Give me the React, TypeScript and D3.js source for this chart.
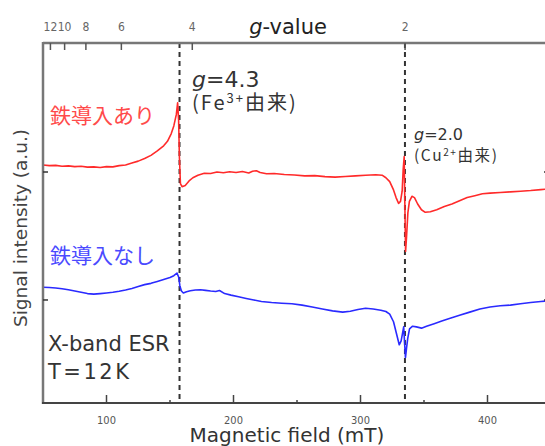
import React from "react";
import * as d3 from "d3";

// ---- data ----
const redField = [50,55,60,65,70,75,80,85,90,95,100,105,110,115,120,125,130,135,140,145,148,151,153,155,156,156.8,157.4,158.2,159.5,162,165,168,172,177,182,187,192,197,202,207,212,215,218,221,226,232,240,248,256,264,272,280,288,296,304,312,317,320,323,326,328,330,331.5,332.8,333.6,334.4,335.0,335.5,336.3,337.3,338.5,340.5,342.5,345,348,351,355,360,366,372,378,384,390,396,402,410,418,426,434,442,450];
const redSignal = [0.055,0.05,0.052,0.045,0.048,0.042,0.045,0.038,0.04,0.035,0.042,0.04,0.05,0.055,0.07,0.085,0.105,0.13,0.165,0.205,0.24,0.3,0.36,0.45,0.54,0.40,0.12,-0.09,-0.115,-0.105,-0.07,-0.045,-0.025,-0.01,-0.012,0.0,-0.006,0.002,-0.004,0.004,-0.008,0.006,0.01,-0.004,-0.014,-0.012,-0.02,-0.024,-0.03,-0.028,-0.036,-0.04,-0.035,-0.03,-0.025,-0.022,-0.025,-0.045,-0.075,-0.14,-0.2,-0.245,-0.23,-0.15,0.02,0.12,-0.3,-0.62,-0.5,-0.32,-0.23,-0.19,-0.2,-0.25,-0.295,-0.315,-0.31,-0.295,-0.27,-0.25,-0.225,-0.2,-0.185,-0.17,-0.165,-0.16,-0.155,-0.15,-0.145,-0.138,-0.13];

const blueField = [50,55,60,65,70,75,80,85,90,95,100,105,110,115,120,125,130,135,140,145,150,153,155.5,156.8,157.8,159,160.5,163,166,170,174,178,182,186,189,193,198,204,210,216,222,230,238,246,254,262,270,278,286,292,298,304,310,316,320,323,326,328.5,330.5,332,333.3,334.0,334.8,335.4,336.2,337.2,338.6,341,344,348,352,358,364,370,378,386,394,402,410,418,426,434,442,450];
const blueSignal = [0.10,0.098,0.094,0.088,0.08,0.07,0.06,0.05,0.046,0.05,0.055,0.06,0.068,0.078,0.09,0.105,0.12,0.13,0.145,0.16,0.175,0.19,0.21,0.18,0.11,0.07,0.055,0.065,0.072,0.078,0.08,0.075,0.07,0.066,0.074,0.05,0.038,0.025,0.012,0.0,-0.012,-0.02,-0.025,-0.03,-0.04,-0.055,-0.07,-0.085,-0.095,-0.088,-0.075,-0.065,-0.07,-0.08,-0.09,-0.11,-0.17,-0.27,-0.35,-0.32,-0.25,-0.21,-0.35,-0.45,-0.38,-0.3,-0.225,-0.205,-0.21,-0.22,-0.205,-0.185,-0.165,-0.145,-0.12,-0.095,-0.07,-0.055,-0.045,-0.04,-0.03,-0.02,-0.012,-0.005];

const redOffset = 1;
const blueOffset = 0;

const fieldTicks = [100, 200, 300, 400];
const fieldMinorTicks = [150, 250, 350];
const gTicks = [12, 10, 8, 6, 4, 2];
const gTickLabels = ["12", "10", "8", "6", "4", "2"];
const markerFields = [157.5, 335];
const freqGHz = 9.38;

const W = 545, H = 446;
const latin = "'DejaVu Sans', 'Noto Sans', sans-serif";
const cjk = "'Noto Sans CJK JP', sans-serif";
const condensed = "'DejaVu Sans Condensed', 'DejaVu Sans', sans-serif";

export default function App() {
  const x = d3.scaleLinear().domain([50, 450]).range([43, 551]);
  const y = d3.scaleLinear().domain([-0.805, 2.008]).range([403, 43]);
  const gToField = (g: number) => (71.4477 * freqGHz) / g;

  const line = d3.line<[number, number]>().x(d => x(d[0])).y(d => y(d[1]));
  const redPts = redField.map((f, i) => [f, redSignal[i] + redOffset] as [number, number]);
  const bluePts = blueField.map((f, i) => [f, blueSignal[i] + blueOffset] as [number, number]);

  const top = y.range()[1], bottom = y.range()[0];
  const left = x.range()[0], right = x.range()[1];

  return (
    <svg width={W} height={H} style={{ position: "absolute", left: 0, top: 0 }}>
      <rect width={W} height={H} fill="#fff" />
      {/* dashed markers */}
      {markerFields.map((f, i) => (
        <line key={i} x1={x(f)} x2={x(f)} y1={top} y2={bottom} stroke="#333" strokeWidth={2} strokeDasharray="5,4" />
      ))}
      {/* traces */}
      <path d={line(redPts) || ""} fill="none" stroke="#ff2a2a" strokeWidth={1.6} strokeLinejoin="round" />
      <path d={line(bluePts) || ""} fill="none" stroke="#2a2aff" strokeWidth={1.6} strokeLinejoin="round" />

      {/* axes */}
      <line x1={left} x2={right} y1={top} y2={top} stroke="#777" strokeWidth={2.5} />
      <line x1={left} x2={left} y1={top - 1} y2={bottom + 1} stroke="#777" strokeWidth={2.5} />
      <line x1={left - 1} x2={right} y1={bottom} y2={bottom} stroke="#444" strokeWidth={2} />
      <line x1={right} x2={right} y1={top} y2={bottom} stroke="#444" strokeWidth={2} />

      {fieldTicks.map(t => (
        <g key={t}>
          <line x1={x(t)} x2={x(t)} y1={bottom} y2={bottom - 8} stroke="#444" strokeWidth={1.5} />
          <text x={x(t)} y={424} textAnchor="middle" fontSize={11} fill="#555" fontFamily={condensed}>{t}</text>
        </g>
      ))}
      {fieldMinorTicks.map(t => (
        <line key={t} x1={x(t)} x2={x(t)} y1={bottom} y2={bottom - 3} stroke="#444" strokeWidth={1.5} />
      ))}
      {gTicks.map((g, i) => (
        <g key={g}>
          <line x1={x(gToField(g))} x2={x(gToField(g))} y1={top} y2={top + 7} stroke="#555" strokeWidth={1.5} />
          <text x={x(gToField(g))} y={31} textAnchor="middle" fontSize={12} fill="#666" fontFamily={condensed}>{gTickLabels[i]}</text>
        </g>
      ))}
      {[redOffset, blueOffset].map(v => (
        <g key={v}>
          <line x1={left} x2={left + 5} y1={y(v)} y2={y(v)} stroke="#333" strokeWidth={1.5} />
          <line x1={right} x2={right - 7} y1={y(v)} y2={y(v)} stroke="#333" strokeWidth={1.5} />
        </g>
      ))}

      {/* titles */}
      <text x={288} y={34} textAnchor="middle" fontSize={21} fill="#222" fontFamily={latin}>
        <tspan fontStyle="italic">g</tspan>-value
      </text>
      <text x={287} y={442} textAnchor="middle" fontSize={20} fill="#333" fontFamily={latin}>Magnetic field (mT)</text>
      <text transform="translate(27,228) rotate(-90)" textAnchor="middle" fontSize={18.5} fill="#444" fontFamily={latin}>Signal intensity (a.u.)</text>

      {/* annotations */}
      <text x={50} y={123} fontSize={21} fill="#ff4a4a" fontFamily={cjk}>鉄導入あり</text>
      <text x={50} y={263} fontSize={21} fill="#4a4aff" fontFamily={cjk}>鉄導入なし</text>
      <text x={48} y={351} fontSize={21} fill="#333" fontFamily={latin}>X-band ESR</text>
      <text x={48} y={379} fontSize={21} fill="#333" fontFamily={latin} letterSpacing={2.5}>T=12K</text>

      <text x={192} y={87} fontSize={22} fill="#333" fontFamily={latin}>
        <tspan fontStyle="italic">g</tspan>=4.3
      </text>
      <text x={192} y={110} fontSize={20} fill="#333" fontFamily={cjk} letterSpacing={2}>
        (Fe<tspan fontSize={13} dy={-7}>3+</tspan><tspan dy={7}>由来)</tspan>
      </text>
      <text x={414} y={140} fontSize={16} fill="#333" fontFamily={latin}>
        <tspan fontStyle="italic">g</tspan>=2.0
      </text>
      <text x={414} y={161} fontSize={15.5} fill="#333" fontFamily={cjk} letterSpacing={1.6}>
        (Cu<tspan fontSize={10} dy={-5}>2+</tspan><tspan dy={5}>由来)</tspan>
      </text>
    </svg>
  );
}
